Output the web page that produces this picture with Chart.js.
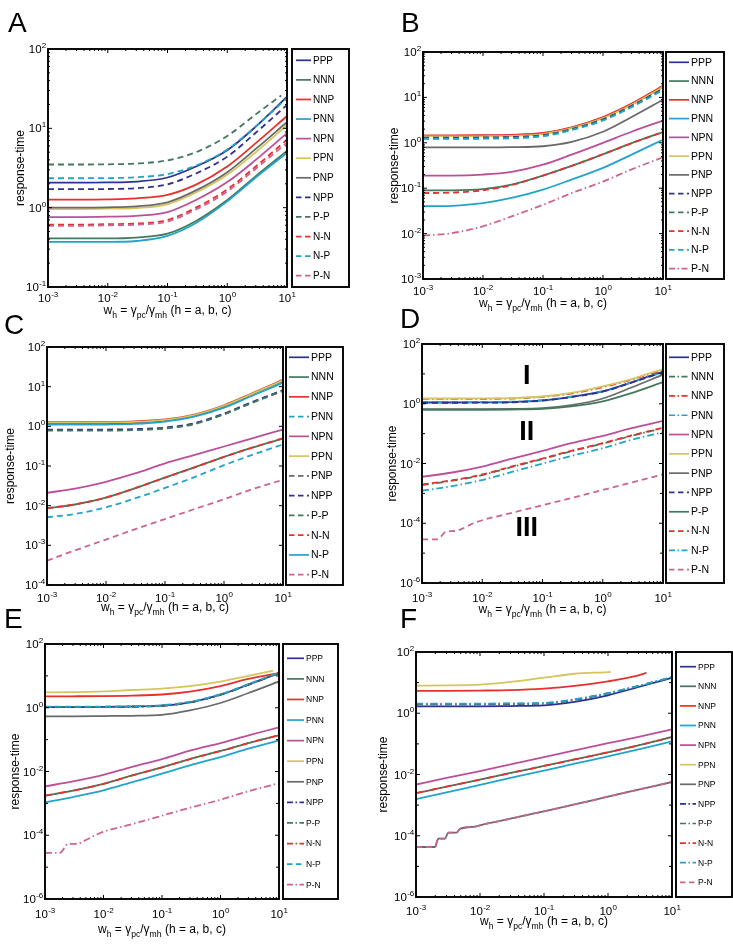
<!DOCTYPE html>
<html><head><meta charset="utf-8">
<script src="https://cdn.jsdelivr.net/npm/chart.js@4.4.1/dist/chart.umd.min.js"></script>
<style>
html,body{margin:0;padding:0;background:#fff;}
#wrap{position:relative;width:733px;height:946px;overflow:hidden;background:#fff;}
canvas{position:absolute;left:0;top:0;}
</style></head><body><div id="wrap">
<canvas id="cA" width="733" height="946"></canvas>
<canvas id="cB" width="733" height="946"></canvas>
<canvas id="cC" width="733" height="946"></canvas>
<canvas id="cD" width="733" height="946"></canvas>
<canvas id="cE" width="733" height="946"></canvas>
<canvas id="cF" width="733" height="946"></canvas>
</div>
<script>
// ---------------- DATA ----------------
const SERIES = ['PPP','NNN','NNP','PNN','NPN','PPN','PNP','NPP','P-P','N-N','N-P','P-N'];
const X = [0.001, 0.003, 0.01, 0.03, 0.1, 0.3, 1, 3, 10];
const X_TICK_EXP = [-3, -2, -1, 0, 1];
const X_A_PP = [0.001, 0.003, 0.01, 0.03, 0.1, 0.3, 1, 3, 8];
const X_D_PN = [0.001, 0.0018, 0.0025, 0.0035, 0.008, 0.03, 0.1, 0.3, 1, 3, 10];
const X_E_PPN = [0.001, 0.003, 0.01, 0.03, 0.1, 0.3, 1, 3, 8];
const X_E_PN = [0.001, 0.0018, 0.0025, 0.0035, 0.0051, 0.0087, 0.03, 0.1, 0.3, 1, 3, 10];
const X_F_PPN = [0.001, 0.003, 0.01, 0.03, 0.1, 0.3, 1, 1.1];
const X_F_NNP = [0.001, 0.003, 0.01, 0.03, 0.1, 0.3, 1, 3, 4];
const X_F_STEP = [0.001, 0.00198, 0.00223, 0.00284, 0.0032, 0.0043, 0.00487, 0.0084, 0.01, 0.03, 0.1, 0.3, 1, 3, 10];
const Y_F_STEP = [4.3e-5, 4.3e-5, 8.1e-5, 8.1e-5, 1.27e-4, 1.27e-4, 1.67e-4, 2.0e-4, 2.2e-4, 3.6e-4, 6.3e-4, 1.05e-3, 1.9e-3, 3.2e-3, 5.7e-3];

const A_Y = [
  [2.07, 2.07, 2.08, 2.13, 2.4, 3.3, 5.3, 10.5, 25],
  [0.41, 0.41, 0.41, 0.42, 0.47, 0.68, 1.25, 2.5, 5.2],
  [1.26, 1.26, 1.27, 1.31, 1.45, 1.95, 3.3, 6.5, 14.3],
  [0.37, 0.37, 0.37, 0.38, 0.44, 0.64, 1.2, 2.4, 4.9],
  [0.76, 0.76, 0.77, 0.79, 0.88, 1.25, 2.1, 4.0, 8.7],
  [0.96, 0.96, 0.97, 0.99, 1.1, 1.55, 2.6, 5.0, 11],
  [1.0, 1.0, 1.01, 1.04, 1.17, 1.65, 2.8, 5.5, 12],
  [1.71, 1.71, 1.72, 1.76, 1.97, 2.7, 4.4, 8.8, 19.7],
  [3.5, 3.5, 3.52, 3.6, 3.95, 5.0, 8.0, 15, 26],
  [0.61, 0.61, 0.62, 0.63, 0.70, 1.0, 1.7, 3.3, 7.2],
  [2.35, 2.35, 2.36, 2.42, 2.65, 3.4, 5.4, 10.6, 24],
  [0.59, 0.59, 0.6, 0.61, 0.67, 0.95, 1.6, 3.1, 6.6]
];
const A_X = [X, X, X, X, X, X, X, X, X_A_PP, X, X, X];
const A_Y_TICK_EXP = [-1, 0, 1, 2];

const B_Y = [
  [1.42, 1.42, 1.43, 1.46, 1.6, 2.15, 3.6, 7.0, 17],
  [0.09, 0.09, 0.095, 0.12, 0.19, 0.31, 0.56, 0.98, 1.73],
  [1.46, 1.46, 1.47, 1.5, 1.65, 2.2, 3.7, 7.3, 18],
  [0.04, 0.041, 0.047, 0.061, 0.093, 0.155, 0.28, 0.55, 1.17],
  [0.19, 0.19, 0.2, 0.23, 0.33, 0.55, 1.0, 1.75, 3.1],
  [1.38, 1.38, 1.39, 1.42, 1.56, 2.1, 3.5, 6.9, 17],
  [0.79, 0.79, 0.79, 0.8, 0.84, 1.05, 1.75, 3.7, 8.9],
  [1.3, 1.3, 1.31, 1.34, 1.48, 2.0, 3.3, 6.5, 15.5],
  [1.25, 1.25, 1.26, 1.29, 1.43, 1.95, 3.2, 6.3, 15],
  [0.078, 0.08, 0.09, 0.117, 0.19, 0.31, 0.56, 0.98, 1.73],
  [1.22, 1.22, 1.23, 1.26, 1.4, 1.9, 3.1, 6.1, 14.5],
  [0.009, 0.0102, 0.0145, 0.024, 0.043, 0.078, 0.14, 0.26, 0.48]
];
const B_X = [X, X, X, X, X, X, X, X, X, X, X, X];
const B_Y_TICK_EXP = [-3, -2, -1, 0, 1, 2];

const C_Y = [
  [1.2, 1.2, 1.21, 1.25, 1.42, 1.85, 3.2, 6.5, 14],
  [0.0085, 0.0107, 0.016, 0.027, 0.051, 0.09, 0.17, 0.29, 0.49],
  [1.28, 1.28, 1.29, 1.33, 1.5, 1.95, 3.4, 6.8, 15],
  [0.0051, 0.0062, 0.0091, 0.015, 0.028, 0.051, 0.105, 0.19, 0.35],
  [0.021, 0.027, 0.04, 0.064, 0.116, 0.186, 0.31, 0.5, 0.83],
  [1.24, 1.24, 1.25, 1.29, 1.46, 1.9, 3.3, 6.6, 14.5],
  [0.8, 0.8, 0.8, 0.82, 0.9, 1.15, 2.05, 4.0, 8.0],
  [0.83, 0.83, 0.83, 0.85, 0.93, 1.18, 2.1, 4.1, 8.2],
  [0.78, 0.78, 0.78, 0.8, 0.88, 1.12, 2.0, 3.9, 7.8],
  [0.0086, 0.0108, 0.016, 0.027, 0.051, 0.09, 0.17, 0.29, 0.5],
  [1.1, 1.1, 1.11, 1.15, 1.32, 1.72, 2.95, 5.9, 12.6],
  [4.1e-4, 7.5e-4, 1.4e-3, 2.5e-3, 4.6e-3, 8e-3, 0.0145, 0.026, 0.045]
];
const C_X = [X, X, X, X, X, X, X, X, X, X, X, X];
const C_Y_TICK_EXP = [-4, -3, -2, -1, 0, 1, 2];

const D_Y = [
  [1.1, 1.1, 1.11, 1.14, 1.29, 1.7, 2.6, 5.2, 12],
  [0.0019, 0.0026, 0.0041, 0.0075, 0.0142, 0.0257, 0.0465, 0.084, 0.152],
  [1.45, 1.45, 1.46, 1.5, 1.7, 2.2, 3.6, 6.4, 13.5],
  [1.13, 1.13, 1.14, 1.17, 1.32, 1.72, 2.65, 5.2, 11.5],
  [0.0036, 0.0049, 0.0079, 0.0142, 0.0264, 0.0477, 0.084, 0.152, 0.267],
  [1.5, 1.5, 1.51, 1.55, 1.75, 2.3, 3.8, 6.7, 14.5],
  [0.66, 0.66, 0.66, 0.67, 0.71, 0.9, 1.5, 3.5, 9.4],
  [1.08, 1.08, 1.09, 1.12, 1.27, 1.68, 2.55, 5.1, 11.5],
  [0.63, 0.63, 0.63, 0.64, 0.67, 0.82, 1.2, 2.27, 5.3],
  [0.002, 0.0027, 0.0043, 0.0078, 0.0147, 0.0265, 0.048, 0.087, 0.157],
  [0.00123, 0.00172, 0.0028, 0.0051, 0.0099, 0.0179, 0.0324, 0.062, 0.111],
  [2.9e-5, 2.9e-5, 5.2e-5, 5.5e-5, 1.1e-4, 2.2e-4, 4.0e-4, 7e-4, 1.3e-3, 2.3e-3, 4.3e-3]
];
const D_X = [X, X, X, X, X, X, X, X, X, X, X, X_D_PN];
const D_Y_TICK_EXP = [-6, -4, -2, 0, 2];
const D_NOTES = ['I', 'II', 'III'];
const D_NOTE_X = [0.055, 0.055, 0.055];
const D_NOTE_Y = [7.9, 0.105, 6.9e-5];

const E_Y = [
  [1.05, 1.05, 1.06, 1.09, 1.16, 1.48, 2.57, 5.3, 12.3],
  [0.00174, 0.0025, 0.0041, 0.0074, 0.0135, 0.0246, 0.044, 0.078, 0.136],
  [2.28, 2.29, 2.32, 2.4, 2.6, 3.2, 4.8, 8.0, 12.3],
  [0.00107, 0.00158, 0.00256, 0.00456, 0.00853, 0.0156, 0.0284, 0.0519, 0.0948],
  [0.00341, 0.0049, 0.0079, 0.0138, 0.0246, 0.045, 0.078, 0.136, 0.243],
  [3.04, 3.1, 3.25, 3.6, 4.0, 4.8, 6.6, 10, 14.6],
  [0.54, 0.54, 0.55, 0.56, 0.6, 0.83, 1.41, 2.9, 6.7],
  [1.04, 1.04, 1.05, 1.08, 1.15, 1.47, 2.55, 5.25, 12.2],
  [1.06, 1.06, 1.07, 1.1, 1.18, 1.5, 2.6, 5.4, 12.5],
  [0.00176, 0.0025, 0.0041, 0.0074, 0.0135, 0.0246, 0.044, 0.078, 0.137],
  [1.08, 1.08, 1.09, 1.12, 1.2, 1.55, 2.65, 5.5, 12.8],
  [2.8e-5, 2.8e-5, 5.4e-5, 5.4e-5, 7.2e-5, 1.17e-4, 2.2e-4, 4.1e-4, 7.3e-4, 1.3e-3, 2.4e-3, 4.3e-3]
];
const E_X = [X, X, X, X, X, X_E_PPN, X, X, X, X, X, X_E_PN];
const E_Y_TICK_EXP = [-6, -4, -2, 0, 2];

const F_Y = [
  [1.67, 1.67, 1.68, 1.72, 1.8, 2.35, 3.85, 7.2, 14.4],
  [0.00245, 0.0040, 0.0068, 0.0112, 0.019, 0.031, 0.053, 0.090, 0.168],
  [5.4, 5.4, 5.5, 5.7, 6.4, 7.8, 11, 17.3, 21],
  [0.00156, 0.0026, 0.0046, 0.0077, 0.0134, 0.0225, 0.039, 0.066, 0.121],
  [0.0047, 0.0077, 0.013, 0.0216, 0.037, 0.061, 0.105, 0.17, 0.30],
  [8.0, 8.1, 8.6, 10.5, 14.5, 19.5, 22, 22.3],
  Y_F_STEP,
  [1.95, 1.95, 1.96, 2.0, 2.08, 2.75, 4.45, 7.7, 14.8],
  [2.0, 2.0, 2.01, 2.05, 2.12, 2.8, 4.5, 7.8, 15],
  [0.00245, 0.0040, 0.0068, 0.0112, 0.019, 0.031, 0.053, 0.090, 0.168],
  [2.05, 2.05, 2.06, 2.1, 2.17, 2.85, 4.55, 7.9, 15.2],
  Y_F_STEP
];
const F_X = [X, X, X_F_NNP, X, X, X_F_PPN, X_F_STEP, X, X, X, X, X_F_STEP];
const F_Y_TICK_EXP = [-6, -4, -2, 0, 2];

// ---------------- STYLE ----------------
const COLORS = ['#2e3192', '#44785e', '#e8302c', '#21a4cb', '#bd4f98', '#d4c55c', '#6a6a6a',
                '#2e3192', '#44785e', '#e8302c', '#21a4cb', '#cc6490'];
const DASH = { s: [], d: [6, 4], dd: [7, 3, 1.5, 3] };
const LDASH = { s: [], d: [5.5, 3.5], dd: [6, 2.5, 1.5, 2.5] };
const A_STYLE = ['s','s','s','s','s','s','s','d','d','d','d','d'];
const B_STYLE = ['s','s','s','s','s','s','s','d','d','d','d','dd'];
const C_STYLE = ['s','s','s','d','s','s','d','d','d','d','s','d'];
const D_STYLE = ['s','dd','dd','dd','s','s','s','d','s','d','dd','d'];
const E_STYLE = ['s','s','s','s','s','s','s','dd','dd','dd','d','dd'];
const F_STYLE = ['s','s','s','s','s','s','s','dd','dd','dd','dd','d'];

const FN = "'Liberation Sans Narrow','Arial Narrow','Liberation Sans',Arial,sans-serif";
const FR = "'Liberation Sans',Arial,sans-serif";

const PANELS = [
  { id:'cA', letter:'A', ys:A_Y, xs:A_X, style:A_STYLE, yExp:A_Y_TICK_EXP,
    plot:[48,49,287,287], legend:[292,49,349,287], lm:11.3, ls:4, le:19, tx:21, lfont:10,
    lpos:[8,32], xlabOff:15, xtitleY:314, ytitleX:21 },
  { id:'cB', letter:'B', ys:B_Y, xs:B_X, style:B_STYLE, yExp:B_Y_TICK_EXP,
    plot:[423,52,663,279], legend:[666,52,724,279], lm:10.3, ls:3, le:23, tx:25, lfont:10.5,
    lpos:[401,32], xlabOff:16, xtitleY:307, ytitleX:395 },
  { id:'cC', letter:'C', ys:C_Y, xs:C_X, style:C_STYLE, yExp:C_Y_TICK_EXP,
    plot:[47,347,283,585], legend:[286,347,343,585], lm:10.3, ls:3, le:23, tx:25, lfont:10.5,
    lpos:[4,334], xlabOff:17, xtitleY:611, ytitleX:11 },
  { id:'cD', letter:'D', ys:D_Y, xs:D_X, style:D_STYLE, yExp:D_Y_TICK_EXP,
    plot:[422,344,663,583], legend:[666,344,724,583], lm:13.3, ls:3, le:23, tx:25, lfont:10.5,
    lpos:[400,328], xlabOff:19, xtitleY:613, ytitleX:393,
    notes:D_NOTES, noteX:D_NOTE_X, noteY:D_NOTE_Y },
  { id:'cE', letter:'E', ys:E_Y, xs:E_X, style:E_STYLE, yExp:E_Y_TICK_EXP,
    plot:[45,644,279,899], legend:[283,644,338,899], lm:14.3, ls:4, le:21, tx:23, lfont:8.5,
    lpos:[4,628], xlabOff:19, xtitleY:933, ytitleX:16 },
  { id:'cF', letter:'F', ys:F_Y, xs:F_X, style:F_STYLE, yExp:F_Y_TICK_EXP,
    plot:[416,652,672,897], legend:[676,652,732,897], lm:14.7, ls:4, le:20, tx:22, lfont:8.5,
    lpos:[400,628], xlabOff:18, xtitleY:925, ytitleX:384 }
];

// ---------------- DRAW HELPERS ----------------
function drawPow(ctx, e, x, baseY, align) {
  ctx.font = '11.5px ' + FN;
  const w1 = ctx.measureText('10').width;
  ctx.font = '8px ' + FN;
  const s2 = String(e);
  const w2 = ctx.measureText(s2).width;
  const x0 = align === 'center' ? x - (w1 + w2) / 2 : x - (w1 + w2);
  ctx.textAlign = 'left';
  ctx.textBaseline = 'alphabetic';
  ctx.font = '11.5px ' + FN;
  ctx.fillText('10', x0, baseY);
  ctx.font = '8px ' + FN;
  ctx.fillText(s2, x0 + w1 + 0.3, baseY - 5);
}

function drawXTitle(ctx, cx, baseY, size) {
  const parts = [['w',0],['h',1],[' = ',0],['\u03b3',0],['pc',1],['/',0],['\u03b3',0],['mh',1],[' (h = a, b, c)',0]];
  const fMain = size + 'px ' + FN, fSub = (size * 0.72).toFixed(1) + 'px ' + FN;
  let total = 0;
  parts.forEach(p => { ctx.font = p[1] ? fSub : fMain; total += ctx.measureText(p[0]).width; });
  let x = cx - total / 2;
  ctx.textAlign = 'left'; ctx.textBaseline = 'alphabetic';
  parts.forEach(p => {
    ctx.font = p[1] ? fSub : fMain;
    ctx.fillText(p[0], x, baseY + (p[1] ? 3.5 : 0));
    x += ctx.measureText(p[0]).width;
  });
}

function framePlugin(P) {
  return {
    id: 'frame' + P.letter,
    afterDraw(chart) {
      const ctx = chart.ctx, a = chart.chartArea, sx = chart.scales.x, sy = chart.scales.y;
      ctx.save();
      ctx.strokeStyle = '#000'; ctx.fillStyle = '#000';
      // ticks
      ctx.lineWidth = 1; ctx.setLineDash([]);
      ctx.beginPath();
      for (let e = -3; e <= 1; e++) {
        const px = sx.getPixelForValue(Math.pow(10, e));
        ctx.moveTo(px, a.bottom); ctx.lineTo(px, a.bottom - 4);
        ctx.moveTo(px, a.top); ctx.lineTo(px, a.top + 4);
        if (e < 1) for (let m = 2; m <= 9; m++) {
          const q = sx.getPixelForValue(m * Math.pow(10, e));
          ctx.moveTo(q, a.bottom); ctx.lineTo(q, a.bottom - 2);
          ctx.moveTo(q, a.top); ctx.lineTo(q, a.top + 2);
        }
      }
      const eMin = P.yExp[0], eMax = P.yExp[P.yExp.length - 1];
      const decPx = Math.abs(sy.getPixelForValue(1) - sy.getPixelForValue(10));
      for (let e = eMin; e <= eMax; e++) {
        const py = sy.getPixelForValue(Math.pow(10, e));
        const len = P.yExp.includes(e) ? 4 : 3;
        ctx.moveTo(a.left, py); ctx.lineTo(a.left + len, py);
        ctx.moveTo(a.right, py); ctx.lineTo(a.right - len, py);
        if (e < eMax && decPx >= 45) for (let m = 2; m <= 9; m++) {
          const q = sy.getPixelForValue(m * Math.pow(10, e));
          ctx.moveTo(a.left, q); ctx.lineTo(a.left + 2, q);
          ctx.moveTo(a.right, q); ctx.lineTo(a.right - 2, q);
        }
      }
      ctx.stroke();
      // frame
      ctx.lineWidth = 1.9;
      ctx.strokeRect(a.left, a.top, a.right - a.left, a.bottom - a.top);
      // tick labels
      X_TICK_EXP.forEach(e => drawPow(ctx, e, sx.getPixelForValue(Math.pow(10, e)), a.bottom + P.xlabOff, 'center'));
      P.yExp.forEach(e => drawPow(ctx, e, a.left - 2, sy.getPixelForValue(Math.pow(10, e)) + 4, 'right'));
      // axis titles
      drawXTitle(ctx, (a.left + a.right) / 2, P.xtitleY, 12);
      ctx.save();
      ctx.translate(P.ytitleX, (a.top + a.bottom) / 2);
      ctx.rotate(-Math.PI / 2);
      ctx.font = '12px ' + FN; ctx.textAlign = 'center'; ctx.textBaseline = 'middle';
      ctx.fillText('response-time', 0, 0);
      ctx.restore();
      // legend
      const L = P.legend, lh = L[3] - L[1];
      ctx.lineWidth = 1.9;
      ctx.strokeRect(L[0], L[1], L[2] - L[0], lh);
      const step = (lh - 2 * P.lm) / 11;
      chart.data.datasets.forEach((ds, i) => {
        const cy = L[1] + P.lm + i * step;
        ctx.strokeStyle = ds.borderColor; ctx.lineWidth = 1.7;
        ctx.setLineDash(LDASH[P.style[i]]);
        ctx.beginPath(); ctx.moveTo(L[0] + P.ls, cy); ctx.lineTo(L[0] + P.le, cy); ctx.stroke();
        ctx.setLineDash([]);
        ctx.fillStyle = '#000';
        ctx.font = P.lfont + 'px ' + FN; ctx.textAlign = 'left'; ctx.textBaseline = 'middle';
        ctx.fillText(ds.label, L[0] + P.tx, cy + 0.5);
      });
      // panel letter
      ctx.fillStyle = '#000';
      ctx.font = '28px ' + FR; ctx.textAlign = 'left'; ctx.textBaseline = 'alphabetic';
      ctx.fillText(P.letter, P.lpos[0], P.lpos[1]);
      // annotations
      if (P.notes) {
        ctx.font = 'bold 27px ' + FR; ctx.textAlign = 'center'; ctx.textBaseline = 'middle';
        P.notes.forEach((t, k) => ctx.fillText(t, sx.getPixelForValue(P.noteX[k]), sy.getPixelForValue(P.noteY[k])));
      }
      ctx.restore();
    }
  };
}

PANELS.forEach(P => {
  const datasets = SERIES.map((name, i) => ({
    label: name,
    data: P.ys[i].map((y, k) => ({ x: P.xs[i][k], y: y })),
    borderColor: COLORS[i],
    backgroundColor: COLORS[i],
    borderWidth: 1.8,
    borderDash: DASH[P.style[i]],
    pointRadius: 0,
    fill: false,
    cubicInterpolationMode: 'monotone',
    order: 12 - i
  }));
  new Chart(document.getElementById(P.id), {
    type: 'line',
    data: { datasets },
    options: {
      responsive: false, animation: false, devicePixelRatio: 1, events: [],
      layout: { autoPadding: false, padding: { left: P.plot[0], top: P.plot[1], right: 733 - P.plot[2], bottom: 946 - P.plot[3] } },
      plugins: { legend: { display: false }, tooltip: { enabled: false }, title: { display: false } },
      scales: {
        x: { type: 'logarithmic', min: 0.001, max: 10, display: false },
        y: { type: 'logarithmic', min: Math.pow(10, P.yExp[0]), max: Math.pow(10, P.yExp[P.yExp.length - 1]), display: false }
      }
    },
    plugins: [framePlugin(P)]
  });
});
</script>
</body></html>
